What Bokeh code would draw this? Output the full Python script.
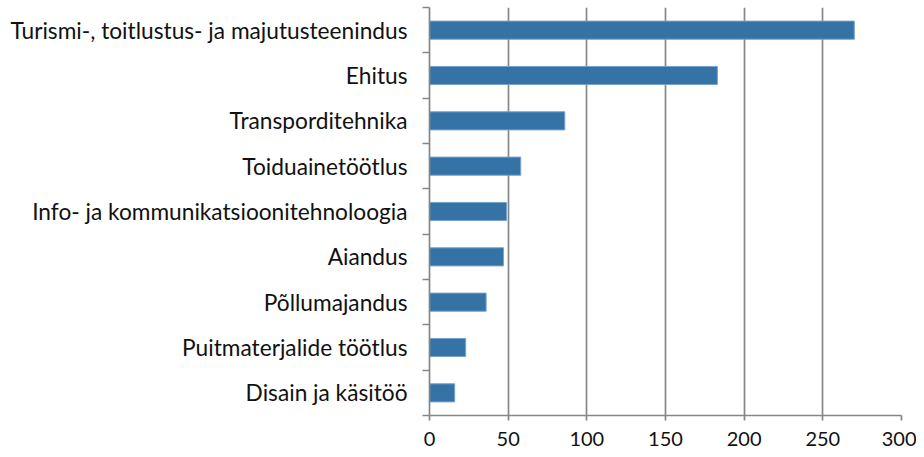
from bokeh.plotting import figure
from bokeh.models import Range1d, FixedTicker
from bokeh.embed import file_html
from bokeh.resources import INLINE

categories = [
    "Turismi-, toitlustus- ja majutusteenindus",
    "Ehitus",
    "Transporditehnika",
    "Toiduainetöötlus",
    "Info- ja kommunikatsioonitehnoloogia",
    "Aiandus",
    "Põllumajandus",
    "Puitmaterjalide töötlus",
    "Disain ja käsitöö",
]
values = [270, 183, 86, 58, 49, 47, 36, 23, 16]
x_ticks = [0, 50, 100, 150, 200, 250, 300]

n = len(categories)
centers = [n - i - 0.5 for i in range(n)]

p = figure(width=916, height=453, output_backend="svg", toolbar_location=None,
           x_range=Range1d(0, 300), y_range=Range1d(0, n),
           min_border_left=429, min_border_right=15, min_border_top=7, min_border_bottom=38)
p.outline_line_color = None
p.background_fill_color = "white"

p.hbar(y=centers, right=values, left=0, height=0.4,
       fill_color="#3573a6", line_color="#7aa3cb", line_width=1)

grid_color = "#868686"
p.ygrid.grid_line_color = None
p.xgrid.ticker = FixedTicker(ticks=x_ticks)
p.xgrid.grid_line_color = grid_color
p.xgrid.grid_line_width = 1.7

xa = p.xaxis[0]
xa.ticker = FixedTicker(ticks=x_ticks)
xa.axis_line_color = grid_color
xa.axis_line_width = 1.7
xa.major_tick_line_color = grid_color
xa.major_tick_line_width = 1.7
xa.major_tick_out = 5
xa.major_tick_in = 0
xa.minor_tick_line_color = None
xa.major_label_text_font = "Lato"
xa.major_label_text_font_size = "20px"
xa.major_label_text_color = "#111111"
xa.major_label_standoff = 11

ya = p.yaxis[0]
ya.ticker = FixedTicker(ticks=centers, minor_ticks=list(range(n + 1)))
ya.major_label_overrides = {c: lab for c, lab in zip(centers, categories)}
ya.axis_line_color = grid_color
ya.axis_line_width = 1.7
ya.major_tick_line_color = None
ya.major_tick_out = 0
ya.major_tick_in = 0
ya.minor_tick_line_color = grid_color
ya.minor_tick_line_width = 1.7
ya.minor_tick_out = 7
ya.minor_tick_in = 0
ya.major_label_text_font = "Lato"
ya.major_label_text_font_size = "22.7px"
ya.major_label_text_color = "#111111"
ya.major_label_standoff = 15

open("out.html", "w").write(file_html(p, INLINE))
